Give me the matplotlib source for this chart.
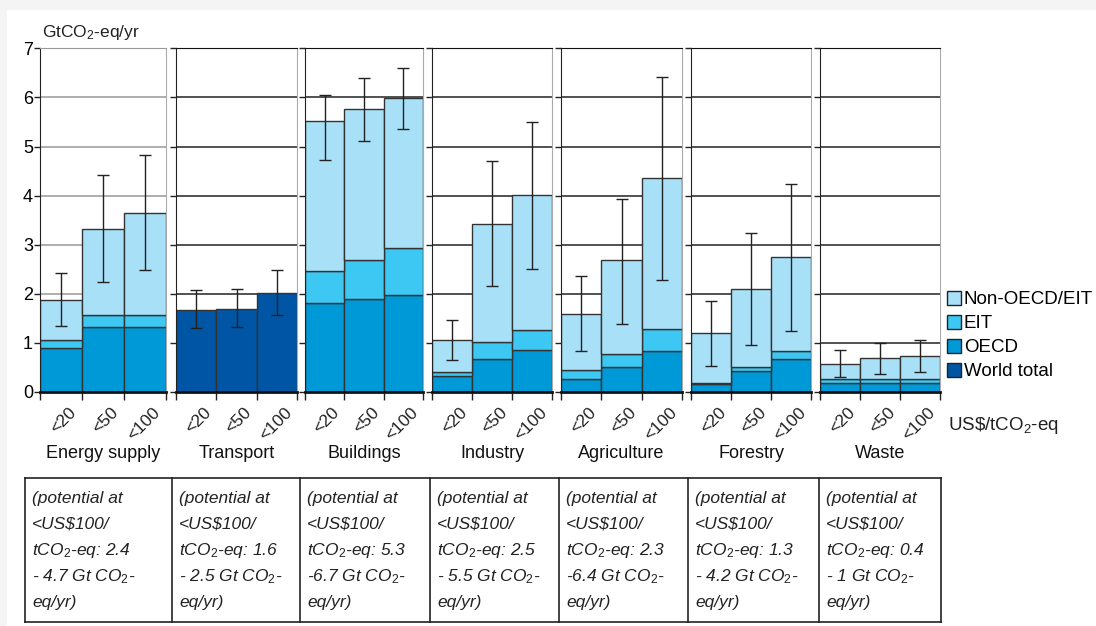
import matplotlib.pyplot as plt
from matplotlib.patches import Patch, Rectangle
from matplotlib.lines import Line2D

plt.rcParams['font.family'] = ['Liberation Sans', 'DejaVu Sans']
plt.rcParams['mathtext.fontset'] = 'custom'
plt.rcParams['mathtext.rm'] = 'Liberation Sans'
plt.rcParams['mathtext.it'] = 'Liberation Sans:italic'

sectors = ['Energy supply', 'Transport', 'Buildings', 'Industry',
           'Agriculture', 'Forestry', 'Waste']
prices = ['<20', '<50', '<100']

# GtCO2-eq/yr, per sector, per price class
oecd = [[0.90, 1.33, 1.33], [0, 0, 0], [1.82, 1.90, 1.97], [0.33, 0.68, 0.85],
        [0.27, 0.50, 0.84], [0.16, 0.43, 0.67], [0.18, 0.18, 0.18]]
eit = [[0.15, 0.23, 0.23], [0, 0, 0], [0.64, 0.79, 0.97], [0.08, 0.33, 0.41],
       [0.17, 0.27, 0.44], [0.03, 0.08, 0.17], [0.08, 0.08, 0.08]]
total = [[1.88, 3.31, 3.65], [1.68, 1.70, 2.01], [5.51, 5.76, 5.99], [1.05, 3.43, 4.01],
         [1.59, 2.68, 4.36], [1.20, 2.10, 2.74], [0.58, 0.69, 0.73]]
world_only = [False, True, False, False, False, False, False]
err_low = [[1.35, 2.24, 2.48], [1.30, 1.33, 1.56], [4.73, 5.11, 5.36], [0.65, 2.15, 2.50],
           [0.84, 1.39, 2.28], [0.53, 0.95, 1.24], [0.31, 0.37, 0.40]]
err_high = [[2.43, 4.41, 4.82], [2.08, 2.10, 2.48], [6.04, 6.39, 6.59], [1.46, 4.71, 5.49],
            [2.37, 3.94, 6.41], [1.86, 3.23, 4.23], [0.85, 0.99, 1.06]]
table_text = [
    ['2.4', '- 4.7'], ['1.6', '- 2.5'], ['5.3', '-6.7'], ['2.5', '- 5.5'],
    ['2.3', '-6.4'], ['1.3', '- 4.2'], ['0.4', '- 1'],
]

c_non = '#a8e0f8'
c_eit = '#3cc8f2'
c_oecd = '#0099d8'
c_world = '#0055a5'
edge = '#333333'

W, H = 1096, 626
fig = plt.figure(figsize=(W / 100, H / 100), dpi=100)
fig.patch.set_facecolor('#f4f4f4')
fig.patches.append(Rectangle((7 / W, 0), 1, 1 - 10 / H, transform=fig.transFigure,
                             facecolor='white', edgecolor='none', zorder=-10))

panel_x = [(40, 166), (176, 297), (305, 423), (432, 552), (561, 682), (691, 811), (820, 940)]
y_top, y_bot = 48.3, 392

for i, name in enumerate(sectors):
    L, R = panel_x[i]
    ax = fig.add_axes([L / W, 1 - y_bot / H, (R - L) / W, (y_bot - y_top) / H])
    ax.set_xlim(0, 3)
    ax.set_ylim(0, 7)
    x = [0.5, 1.5, 2.5]
    gc = '#999999' if i == 0 else '#222222'
    for yv in range(1, 7):
        ax.axhline(yv, color=gc, lw=1.1, zorder=0)
    if world_only[i]:
        ax.bar(x, total[i], width=1, color=c_world, edgecolor=edge, lw=1, zorder=2)
    else:
        o = oecd[i]
        e = eit[i]
        oe = [o[k] + e[k] for k in range(3)]
        non = [total[i][k] - oe[k] for k in range(3)]
        ax.bar(x, o, width=1, color=c_oecd, edgecolor=edge, lw=1, zorder=2)
        ax.bar(x, e, bottom=o, width=1, color=c_eit, edgecolor=edge, lw=1, zorder=2)
        ax.bar(x, non, bottom=oe, width=1, color=c_non, edgecolor=edge, lw=1, zorder=2)
    mid = [(err_low[i][k] + err_high[i][k]) / 2 for k in range(3)]
    yerr = [[mid[k] - err_low[i][k] for k in range(3)],
            [err_high[i][k] - mid[k] for k in range(3)]]
    ax.errorbar(x, mid, yerr=yerr, fmt='none', ecolor='#222222', elinewidth=1,
                capsize=4, capthick=1, zorder=3)

    ax.spines['top'].set_color('#999999' if i == 0 else '#111111')
    ax.spines['right'].set_color('#aaaaaa')
    ax.spines['left'].set_color('#222222')
    ax.spines['bottom'].set_color('#111111')
    ax.spines['bottom'].set_linewidth(2)
    ax.spines['bottom'].set_zorder(5)

    ax.set_yticks(range(0, 8))
    if i == 0:
        ax.set_yticklabels([str(v) for v in range(0, 8)], fontsize=13)
    else:
        ax.set_yticklabels([])
    ax.tick_params(axis='y', length=4, width=1, color='#222222', pad=1)
    ax.set_xticks([0, 1, 2, 3], minor=True)
    ax.tick_params(axis='x', which='minor', length=6, width=1, color='#222222')
    ax.set_xticks([xx + 0.18 for xx in x])
    ax.set_xticklabels(prices, rotation=45, ha='right', va='top',
                       rotation_mode='anchor', fontsize=12.5, color='#222222')
    ax.tick_params(axis='x', which='major', length=0, pad=9)

    ax.text(1.5, -1.25, name, ha='center', va='center', fontsize=13, color='#111111')

    # table cell below
    cl = [25, 172, 300, 430, 559, 688, 819, 941]
    lo, hi = table_text[i]
    lines = ['(potential at', '<US$100/', r'tCO$_2$-eq: ' + lo,
             hi + r' Gt CO$_2$-', 'eq/yr)']
    for j, ln in enumerate(lines):
        fig.text((cl[i] + 7) / W, 1 - (498 + 26.2 * j) / H, ln, fontsize=12.5,
                 style='italic', ha='left', va='center', color='#222222',
                 math_fontfamily='custom')

# table grid
cl = [25, 172, 300, 430, 559, 688, 819, 941]
for xv in cl:
    fig.add_artist(Line2D([xv / W, xv / W], [1 - 478 / H, 1 - 622 / H], color='#222222', lw=1.2))
for yv in (478, 622):
    fig.add_artist(Line2D([cl[0] / W, cl[-1] / W], [1 - yv / H, 1 - yv / H], color='#222222', lw=1.2))

fig.text(42 / W, 1 - 32 / H, r'GtCO$_2$-eq/yr', fontsize=12.5, ha='left', va='center',
         color='#222222')
fig.text(948 / W, 1 - 426 / H, r'US\$/tCO$_2$-eq', fontsize=13.5, ha='left', va='center',
         color='#222222')

handles = [Patch(facecolor=c, edgecolor='#222222', lw=1) for c in (c_non, c_eit, c_oecd, c_world)]
fig.legend(handles, ['Non-OECD/EIT', 'EIT', 'OECD', 'World total'], loc='upper left',
           bbox_to_anchor=(947 / W, 1 - 291 / H), frameon=False, fontsize=13.5,
           handlelength=0.75, handleheight=0.75, handletextpad=0.15, labelspacing=0.35,
           borderpad=0, borderaxespad=0)

fig.savefig('out.png', dpi=100)
